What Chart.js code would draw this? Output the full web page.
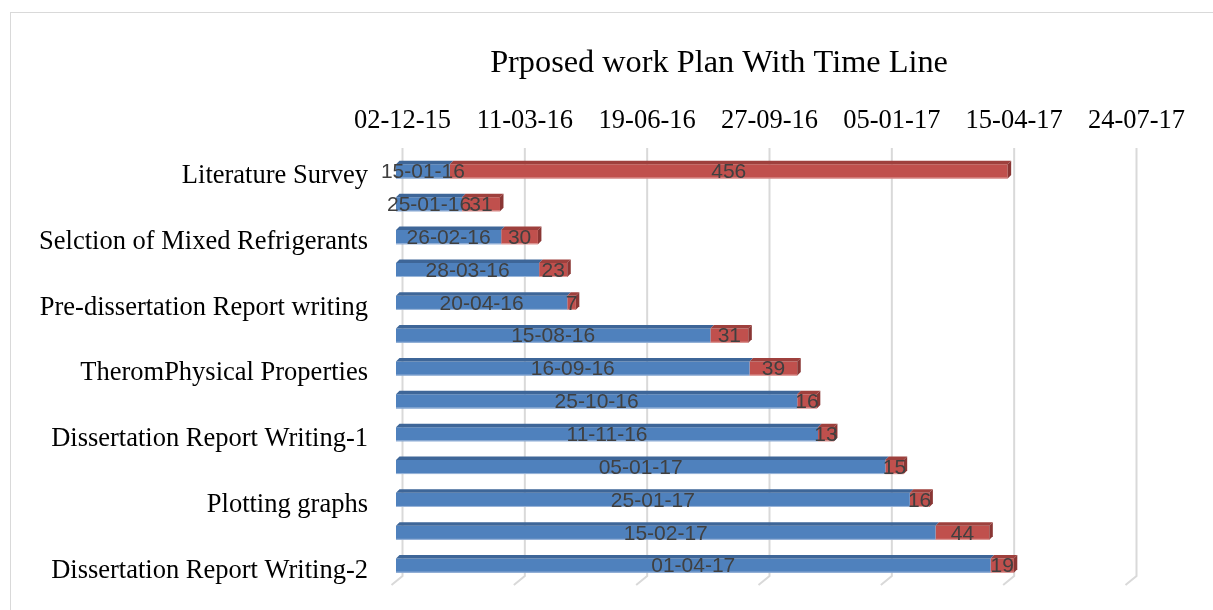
<!DOCTYPE html>
<html>
<head>
<meta charset="utf-8">
<script src="https://cdn.jsdelivr.net/npm/chart.js@4.4.1/dist/chart.umd.min.js"></script>
<style>
  html, body { margin: 0; padding: 0; background: #fff; }
</style>
</head>
<body>
<canvas id="myChart" width="1213" height="610"></canvas>
<script>
// task rows, top to bottom (every other row has no label on the axis)
const tasks = [
  "Literature Survey", "",
  "Selction of Mixed Refrigerants", "",
  "Pre-dissertation Report writing", "",
  "TheromPhysical Properties", "",
  "Dissertation Report Writing-1", "",
  "Plotting graphs", "",
  "Dissertation Report Writing-2"
];
const startDates = [
  "15-01-16", "25-01-16", "26-02-16", "28-03-16", "20-04-16", "15-08-16", "16-09-16",
  "25-10-16", "11-11-16", "05-01-17", "25-01-17", "15-02-17", "01-04-17"
];
const durations = [456, 31, 30, 23, 7, 31, 39, 16, 13, 15, 16, 44, 19];

// time axis: day 0 is the first tick, one tick every 100 days
const axisStart = "02-12-15";
const tickLabels = ["02-12-15", "11-03-16", "19-06-16", "27-09-16", "05-01-17", "15-04-17", "24-07-17"];
const tickStep = 100;

const DAY = 86400000;
function parseDate(s) {
  const [d, m, y] = s.split("-").map(Number);
  return Date.UTC(2000 + y, m - 1, d);
}
const startOffsets = startDates.map(s => (parseDate(s) - parseDate(axisStart)) / DAY);

const BLUE = "#4F81BD", BLUE_TOP = "#3E6698", BLUE_EDGE = "#9DB7DA";
const RED = "#C0504D", RED_TOP = "#9E403D", RED_SIDE = "#8A3634", RED_EDGE = "#E0A09E";
const DEPTH = 3.5;
const BACK = 6.5; // gridlines sit on the back wall, a little right of the bar fronts

// frame, slanted gridlines, bar tops/sides, value labels and the title
const ganttDecor = {
  id: "ganttDecor",
  beforeDraw(chart) {
    const c = chart.ctx;
    c.save();
    c.strokeStyle = "#D9D9D9";
    c.lineWidth = 1;
    c.strokeRect(10.5, 12.5, 1210, 620);
    c.restore();
  },
  beforeDatasetsDraw(chart) {
    const c = chart.ctx, xs = chart.scales.x, area = chart.chartArea;
    c.save();
    c.strokeStyle = "#D9D9D9";
    c.lineWidth = 2;
    for (let i = 0; i < tickLabels.length; i++) {
      const x = xs.getPixelForValue(i * tickStep) + BACK;
      c.beginPath();
      c.moveTo(x, area.top - 7);
      c.lineTo(x, area.bottom - 6);
      c.lineTo(x - 11, area.bottom + 3);
      c.stroke();
    }
    c.restore();
  },
  afterDatasetsDraw(chart) {
    const c = chart.ctx;
    c.save();
    chart.data.datasets.forEach((ds, di) => {
      const meta = chart.getDatasetMeta(di);
      meta.data.forEach((bar, i) => {
        const x0 = bar.base, x1 = bar.x, top = bar.y - bar.height / 2, bot = bar.y + bar.height / 2;
        // top face
        c.fillStyle = di === 0 ? BLUE_TOP : RED_TOP;
        c.beginPath();
        c.moveTo(x0, top);
        c.lineTo(x1, top);
        c.lineTo(x1 + DEPTH, top - DEPTH);
        c.lineTo(x0 + DEPTH, top - DEPTH);
        c.closePath();
        c.fill();
        // light lower edge
        c.fillStyle = di === 0 ? BLUE_EDGE : RED_EDGE;
        c.fillRect(x0, bot - 1, x1 - x0, 1);
        // end face of the whole bar
        if (di === 1) {
          c.fillStyle = RED_SIDE;
          c.beginPath();
          c.moveTo(x1, top);
          c.lineTo(x1 + DEPTH, top - DEPTH);
          c.lineTo(x1 + DEPTH, bot - DEPTH);
          c.lineTo(x1, bot);
          c.closePath();
          c.fill();
        }
      });
    });
    // value labels, centred on each segment
    c.font = "21px 'Liberation Sans', Arial, sans-serif";
    c.fillStyle = "#404040";
    c.textAlign = "center";
    c.textBaseline = "middle";
    chart.data.datasets.forEach((ds, di) => {
      chart.getDatasetMeta(di).data.forEach((bar, i) => {
        const text = di === 0 ? startDates[i] : String(durations[i]);
        c.fillText(text, (bar.base + bar.x) / 2, bar.y + 1);
      });
    });
    // title
    c.font = "32.3px 'Liberation Serif', 'Times New Roman', serif";
    c.fillStyle = "#000";
    c.fillText("Prposed work Plan With Time Line", 719, 64);
    c.restore();
  }
};

const serif = "'Liberation Serif', 'Times New Roman', serif";
const ctx = document.getElementById("myChart");
const ganttChart = new Chart(ctx, {
  type: "bar",
  data: {
    labels: tasks,
    datasets: [
      {
        label: "Start",
        data: startOffsets,
        backgroundColor: BLUE,
        barPercentage: 0.43,
        categoryPercentage: 1
      },
      {
        label: "Days",
        data: durations,
        backgroundColor: RED,
        barPercentage: 0.43,
        categoryPercentage: 1
      }
    ]
  },
  options: {
    indexAxis: "y",
    responsive: false,
    animation: false,
    devicePixelRatio: 1,
    layout: { autoPadding: false, padding: { left: 0, right: 83, top: 0, bottom: 28 } },
    scales: {
      x: {
        position: "top",
        stacked: true,
        min: 0,
        max: tickStep * (tickLabels.length - 1),
        grid: { display: false, drawTicks: false },
        border: { display: false },
        ticks: {
          stepSize: tickStep,
          autoSkip: false,
          maxRotation: 0,
          padding: 18,
          labelOffset: BACK,
          color: "#000",
          font: { family: serif, size: 26.5 },
          callback: (v, i) => tickLabels[i]
        },
        afterFit: s => { s.height = 155; }
      },
      y: {
        stacked: true,
        grid: { display: false, drawTicks: false },
        border: { display: false },
        ticks: {
          autoSkip: false,
          padding: 28,
          labelOffset: 5,
          color: "#000",
          font: { family: serif, size: 26.5 }
        },
        afterFit: s => {
          s.width = 396;
          s.paddingTop = 0;
          s.paddingBottom = 0;
        }
      }
    },
    plugins: {
      legend: { display: false },
      tooltip: { enabled: false },
      title: { display: false }
    }
  },
  plugins: [ganttDecor]
});
</script>
</body>
</html>
